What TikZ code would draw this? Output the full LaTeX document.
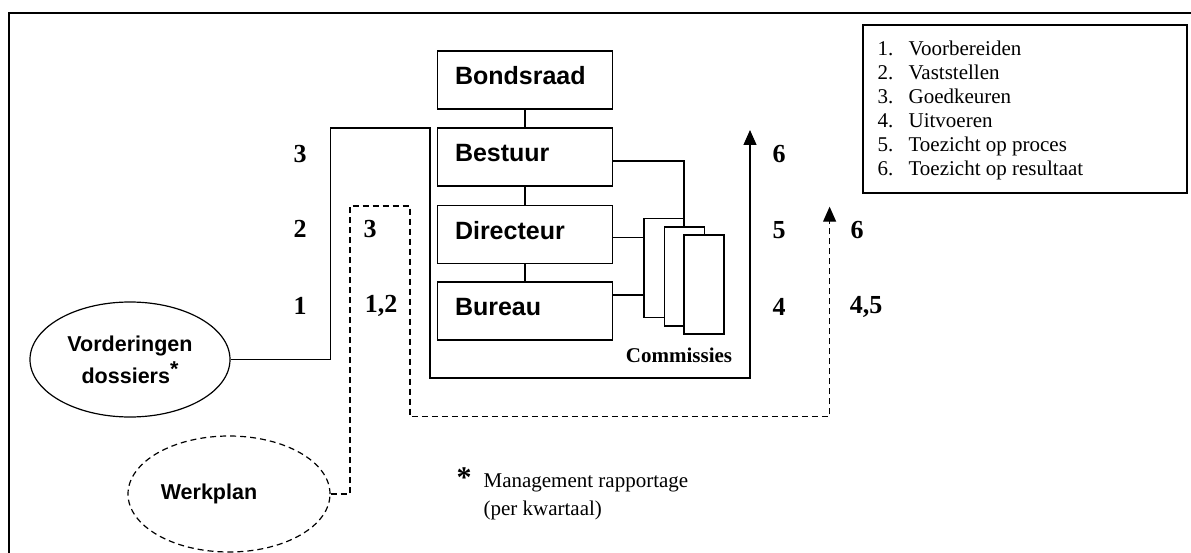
\documentclass[tikz,border=0pt]{standalone}
\usepackage{fontspec}
\setmainfont{Liberation Serif}
\setsansfont{Liberation Sans}
\usetikzlibrary{shapes.geometric,arrows.meta}

\begin{document}
\begin{tikzpicture}[x=1pt, y=-1pt, line width=1.2pt,
    org/.style={draw, rectangle, minimum width=175pt, minimum height=58pt,
      text width=140pt, align=left, inner xsep=17.5pt, inner ysep=0pt,
      text height=18pt, text depth=8pt,
      font=\sffamily\bfseries\fontsize{25}{28}\selectfont},
    commis/.style={draw, fill=white, minimum width=40pt, minimum height=99pt, inner sep=0pt},
    oval/.style={draw, ellipse, inner sep=0pt, align=center,
      font=\sffamily\bfseries\fontsize{21.5}{32}\selectfont},
    num/.style={font=\bfseries\fontsize{26}{26}\selectfont, inner sep=0pt},
    legtext/.style={font=\fontsize{21}{24}\selectfont, inner sep=0pt, anchor=base west},
    dashline/.style={dash pattern=on 6pt off 4pt},
    tip/.style={-{Triangle[length=15pt,width=13pt]}}]
    \useasboundingbox (0,0) rectangle (1191,553);
    % Frame
    \draw[line width=2pt] (1191,13.5) -- (8.5,13.5) -- (8.5,553);
    % Organisation
    \node[org] (bondsraad) at (525,80) {Bondsraad};
    \node[org] (bestuur) at (525,157) {Bestuur};
    \node[org] (directeur) at (525,234.5) {Directeur};
    \node[org] (bureau) at (525,311) {Bureau};
    \draw (bondsraad) -- (bestuur);
    \draw (bestuur) -- (directeur);
    \draw (directeur) -- (bureau);
    % Commissies
    \node[commis] (com1) at (664,268) {};
    \coordinate (be) at ([yshift=-4pt]bestuur.east);
    \draw (be) -| (684,227);
    \node[commis] (com2) at (684.5,276.5) {};
    \node[commis] (com3) at (704,284.5) {};
    \coordinate (di) at ([yshift=-3pt]directeur.east);
    \draw (di) -- (di -| com1.west);
    \coordinate (bu) at ([yshift=16pt]bureau.east);
    \draw (bu) -- (bu -| com1.west);
    \node[font=\bfseries\fontsize{21}{24}\selectfont, inner sep=0pt] (comlbl) at (679,355) {Commissies};
    % Ellipses
    \node[oval, minimum width=200pt, minimum height=115pt] (vord) at (130,359.5)
      {Vorderingen\\dossiers\raisebox{.3em}{*}};
    \node[oval, dashline, minimum width=202pt, minimum height=116pt] (werk) at (229,494)
      {Werkplan\hspace*{40pt}};
    % Loops
    \coordinate (sA) at (330.7,128);
    \coordinate (sB) at (430,128);
    \coordinate (sC) at (430,378);
    \coordinate (sT) at (750,130);
    \draw[tip] (vord.east) -| (sA) -- (sB) -- (sC) -| (sT);
    \coordinate (dA) at (350,206);
    \coordinate (dB) at (410,206);
    \coordinate (dC) at (410,416.7);
    \coordinate (dT) at (829.6,206.7);
    \draw[tip, dashline] (werk.east) -| (dA) -- (dB) -- (dC) -| (dT);
    % Numbers
    \foreach \x/\y/\t [count=\k] in {300/154/3, 300/229/2, 300/306/1, 370/229/3, 381/306/{1,2},
        779/154/6, 779/230/5, 779/307/4, 857/230/6, 866/307/{4,5}}
      \node[num] (n\k) at (\x,\y) {\t};
    % Legend
    \node[draw, line width=2.8pt, minimum width=324pt, minimum height=168pt] (legend) at (1025,109) {};
    \foreach \i/\t in {1/Voorbereiden, 2/Vaststellen, 3/Goedkeuren, 4/Uitvoeren,
        5/Toezicht op proces, 6/Toezicht op resultaat} {
      \node[legtext] (li\i) at (877,{32+24*\i}) {\i.};
      \node[legtext] (lt\i) at (908,{32+24*\i}) {\t};
    }
    % Note
    \node[font=\bfseries\fontsize{30}{30}\selectfont, inner sep=0pt] (star) at (464,478) {*};
    \node[font=\fontsize{21}{28}\selectfont, align=left, inner sep=0pt, anchor=base west] (note)
      at (483,515) {Management rapportage\\(per kwartaal)};
\end{tikzpicture}
\end{document}
